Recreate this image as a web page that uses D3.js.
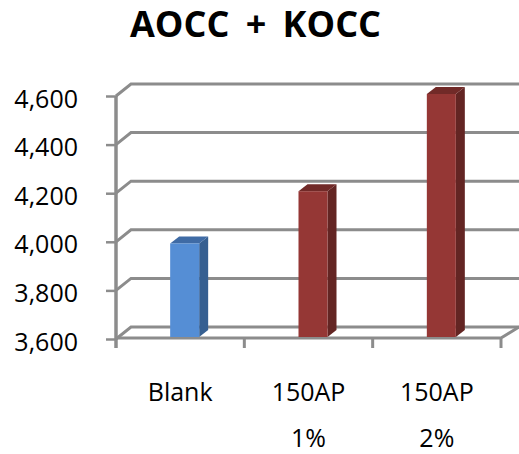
<!DOCTYPE html>
<html><head><meta charset="utf-8">
<script src="https://cdn.jsdelivr.net/npm/d3@7"></script>
<style>html,body{margin:0;padding:0;background:#fff}svg{display:block}text{font-family:"Open Sans","Noto Sans",sans-serif;fill:#000}</style>
</head><body><svg id="c" width="519" height="454"></svg>
<script>
const categories = [["Blank"], ["150AP","1%"], ["150AP","2%"]];
const values = [3985, 4200, 4600];
const seriesColors = ["#558ed5","#953735","#953735"];
const sideColors = ["#365f91","#632523","#632523"];
const topColors = ["#3f6ba5","#712a28","#712a28"];
const tickValues = [3600,3800,4000,4200,4400,4600];
const titleText = "AOCC + KOCC";

const svg = d3.select("#c");
const W=385, dx=15, dy=12;
const y = d3.scaleLinear().domain([3600,4600]).range([339,96]);
const x = d3.scaleBand().domain(d3.range(categories.length)).range([116,116+W]);
const grid="#8c8c8c";

tickValues.forEach(t=>{
  const p=d3.path();
  p.moveTo(116,y(t)); p.lineTo(116+dx,y(t)-dy); p.lineTo(519,y(t)-dy);
  svg.append("path").attr("d",p).attr("fill","none").attr("stroke",grid).attr("stroke-width",3);
});
const fp=d3.path(); fp.moveTo(116,y(3600)-1); fp.lineTo(116+W,y(3600)-1); fp.lineTo(519,y(3600)-dy);
svg.append("path").attr("d",fp).attr("fill","none").attr("stroke",grid).attr("stroke-width",3);

const ya=d3.axisLeft(y).tickValues(tickValues).tickFormat(d3.format(",")).tickSize(10);
const yg=svg.append("g").attr("transform","translate(116,0)").call(ya);
yg.select(".domain").remove();
yg.selectAll("line").attr("stroke",grid).attr("stroke-width",2.5);
yg.selectAll("text").attr("font-size",25).attr("x",-38).attr("dy",11).attr("text-anchor","end");
svg.append("line").attr("x1",116).attr("x2",116).attr("y1",y(4600)).attr("y2",y(3600)+9).attr("stroke",grid).attr("stroke-width",3.5);
[1,2,3].forEach(i=>{
  const px=116+i*x.step();
  svg.append("line").attr("x1",px).attr("x2",px).attr("y1",y(3600)).attr("y2",y(3600)+9).attr("stroke",grid).attr("stroke-width",3);
});

const bw=29, sx=9, sy=7, base=y(3600)-2;
values.forEach((v,i)=>{
  const l=x(i)+x.step()/2-bw/2+4.5, t=y(v)-2, r=l+bw;
  svg.append("path").attr("d",d3.line()([[r,t],[r+sx,t-sy],[r+sx,base-sy],[r,base]])).attr("fill",sideColors[i]);
  svg.append("path").attr("d",d3.line()([[l,t],[l+sx,t-sy],[r+sx,t-sy],[r,t]])).attr("fill",topColors[i]);
  svg.append("rect").attr("x",l).attr("y",t).attr("width",bw).attr("height",base-t).attr("fill",seriesColors[i]);
});

categories.forEach((c,i)=>{
  const t=svg.append("text").attr("text-anchor","middle").attr("font-size",25);
  c.forEach((s,j)=>t.append("tspan").attr("x",x(i)+x.step()/2).attr("y",401+j*46).text(s));
});
svg.append("text").attr("x",255.5).attr("y",37).attr("text-anchor","middle").attr("font-size",36).attr("font-weight",700).attr("word-spacing",7).text(titleText);
</script></body></html>
